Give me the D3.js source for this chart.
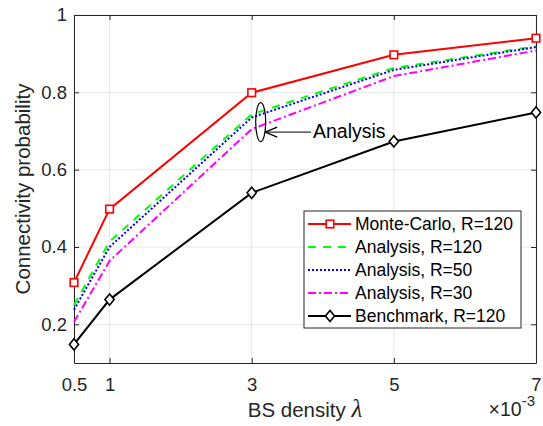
<!DOCTYPE html>
<html>
<head>
<meta charset="utf-8">
<script src="https://cdn.jsdelivr.net/npm/d3@7"></script>
<style>
  body { margin: 0; background: #fff; }
  text { font-family: "Liberation Sans", Arial, sans-serif; }
</style>
</head>
<body>
<div id="chart"></div>
<script>
// data
var densities = [0.5, 1, 3, 5, 7];
var monteCarlo120 = [0.308, 0.498, 0.799, 0.897, 0.940];
var analysis120 = [0.250, 0.414, 0.743, 0.863, 0.919];
var analysis50 = [0.238, 0.400, 0.735, 0.858, 0.917];
var analysis30 = [0.206, 0.364, 0.705, 0.842, 0.908];
var benchmark120 = [0.148, 0.264, 0.540, 0.673, 0.748];
var xTicks = [0.5, 1, 3, 5, 7];
var yTicks = [0.2, 0.4, 0.6, 0.8, 1];

var series = [
  { name: "Monte-Carlo, R=120", values: monteCarlo120, color: "#ff0000", dash: null, marker: "square" },
  { name: "Analysis, R=120", values: analysis120, color: "#00ff00", dash: "8,7", marker: null },
  { name: "Analysis, R=50", values: analysis50, color: "#0000ff", dash: "2,2", marker: null },
  { name: "Analysis, R=30", values: analysis30, color: "#ff00ff", dash: "8,3,2,3", marker: null },
  { name: "Benchmark, R=120", values: benchmark120, color: "#000000", dash: null, marker: "diamond" }
];

var svgWidth = 543, svgHeight = 426;
var margin = { top: 15, right: 7, bottom: 63, left: 74 };
var chartWidth = svgWidth - margin.left - margin.right;
var chartHeight = svgHeight - margin.top - margin.bottom;

var svg = d3.select("#chart").append("svg")
  .attr("width", svgWidth)
  .attr("height", svgHeight);

var g = svg.append("g")
  .attr("transform", `translate(${margin.left}, ${margin.top})`);

var xScale = d3.scaleLinear().domain([0.5, 7]).range([0, chartWidth]);
var yScale = d3.scaleLinear().domain([0.1, 1]).range([chartHeight, 0]);

// grid
g.append("g").selectAll("line").data(xTicks).enter().append("line")
  .attr("x1", d => xScale(d)).attr("x2", d => xScale(d))
  .attr("y1", 0).attr("y2", chartHeight)
  .attr("stroke", "#e6e6e6").attr("stroke-width", 1);
g.append("g").selectAll("line").data(yTicks).enter().append("line")
  .attr("y1", d => yScale(d)).attr("y2", d => yScale(d))
  .attr("x1", 0).attr("x2", chartWidth)
  .attr("stroke", "#e6e6e6").attr("stroke-width", 1);

// axes (ticks inside, box on all sides)
function styleAxis(sel) {
  sel.select(".domain").attr("stroke", "#262626");
  sel.selectAll(".tick line").attr("stroke", "#262626");
  sel.selectAll(".tick text").attr("fill", "#262626")
    .style("font-size", "18.5px").style("font-family", "Liberation Sans, Arial, sans-serif");
}
g.append("g").attr("transform", `translate(0, ${chartHeight})`)
  .call(d3.axisBottom(xScale).tickValues(xTicks).tickSizeInner(-5).tickSizeOuter(0).tickPadding(15).tickFormat(d3.format("")))
  .call(styleAxis);
g.append("g")
  .call(d3.axisLeft(yScale).tickValues(yTicks).tickSizeInner(-5).tickSizeOuter(0).tickPadding(7).tickFormat(d3.format("")))
  .call(styleAxis);
g.append("g")
  .call(d3.axisTop(xScale).tickValues(xTicks).tickSizeInner(-5).tickSizeOuter(0).tickFormat(""))
  .call(styleAxis);
g.append("g").attr("transform", `translate(${chartWidth}, 0)`)
  .call(d3.axisRight(yScale).tickValues(yTicks).tickSizeInner(-5).tickSizeOuter(0).tickFormat(""))
  .call(styleAxis);

// lines
var line = d3.line()
  .x((d, i) => xScale(densities[i]))
  .y(d => yScale(d));

series.forEach(function(s) {
  g.append("path")
    .datum(s.values)
    .attr("d", line)
    .attr("fill", "none")
    .attr("stroke", s.color)
    .attr("stroke-width", 2)
    .attr("stroke-dasharray", s.dash);
});

function drawMarker(sel, type, color, cx, cy) {
  if (type === "square") {
    sel.append("rect")
      .attr("x", cx - 3.8).attr("y", cy - 3.8).attr("width", 7.6).attr("height", 7.6)
      .attr("fill", "#fff").attr("stroke", color).attr("stroke-width", 1.6);
  } else if (type === "diamond") {
    sel.append("path")
      .attr("d", `M${cx},${cy - 5.6}L${cx + 4.6},${cy}L${cx},${cy + 5.6}L${cx - 4.6},${cy}Z`)
      .attr("fill", "#fff").attr("stroke", color).attr("stroke-width", 1.6);
  }
}

series.filter(s => s.marker).forEach(function(s) {
  var mg = g.append("g");
  s.values.forEach(function(v, i) {
    drawMarker(mg, s.marker, s.color, xScale(densities[i]), yScale(v));
  });
});

// annotation: ellipse + arrow + text
var annX = xScale(3) + 9, annY = yScale(0.723);
g.append("ellipse")
  .attr("cx", annX).attr("cy", annY).attr("rx", 5).attr("ry", 19.5)
  .attr("fill", "none").attr("stroke", "#000").attr("stroke-width", 1.2);
var arrowTip = annX + 4.5;
var arrowTail = 311 - margin.left;
g.append("line")
  .attr("x1", arrowTail).attr("x2", arrowTip + 2)
  .attr("y1", annY + 10).attr("y2", annY + 10)
  .attr("stroke", "#000").attr("stroke-width", 1);
g.append("path")
  .attr("d", `M${arrowTip},${annY + 10}L${arrowTip + 12},${annY + 5}M${arrowTip},${annY + 10}L${arrowTip + 12},${annY + 15}`)
  .attr("fill", "none").attr("stroke", "#000").attr("stroke-width", 1.3);
g.append("text")
  .attr("x", arrowTail + 2).attr("y", annY + 15.5)
  .style("font-size", "19.5px").attr("fill", "#000")
  .text("Analysis");

// legend
var legX = 304, legY = 211, legW = 217, legRow = 23;
var leg = svg.append("g");
leg.append("rect")
  .attr("x", legX).attr("y", legY).attr("width", legW).attr("height", 117)
  .attr("fill", "#fff").attr("stroke", "#262626").attr("stroke-width", 1);
series.forEach(function(s, i) {
  var y = legY + 13 + i * legRow;
  leg.append("line")
    .attr("x1", legX + 4).attr("x2", legX + 47)
    .attr("y1", y).attr("y2", y)
    .attr("stroke", s.color).attr("stroke-width", 2)
    .attr("stroke-dasharray", s.dash);
  if (s.marker) drawMarker(leg, s.marker, s.color, legX + 26, y);
  leg.append("text")
    .attr("x", legX + 51).attr("y", y + 6.3)
    .style("font-size", "17.5px").attr("fill", "#000")
    .text(s.name);
});

// axis labels
svg.append("text")
  .attr("transform", `translate(30, ${margin.top + chartHeight / 2}) rotate(-90)`)
  .attr("text-anchor", "middle")
  .style("font-size", "20.5px").attr("fill", "#262626")
  .text("Connectivity probability");

var xl = svg.append("text")
  .attr("x", margin.left + chartWidth / 2).attr("y", 417)
  .attr("text-anchor", "middle")
  .style("font-size", "20.5px").attr("fill", "#262626");
xl.append("tspan").text("BS density ");
xl.append("tspan").style("font-family", "Liberation Serif, serif").style("font-style", "italic")
  .style("font-size", "25px").text("λ");

var ex = svg.append("text")
  .attr("x", 535).attr("y", 416)
  .attr("text-anchor", "end")
  .style("font-size", "19.5px").attr("fill", "#262626");
ex.append("tspan").text("×10");
ex.append("tspan").attr("dy", -10).style("font-size", "15px").text("-3");
</script>
</body>
</html>
